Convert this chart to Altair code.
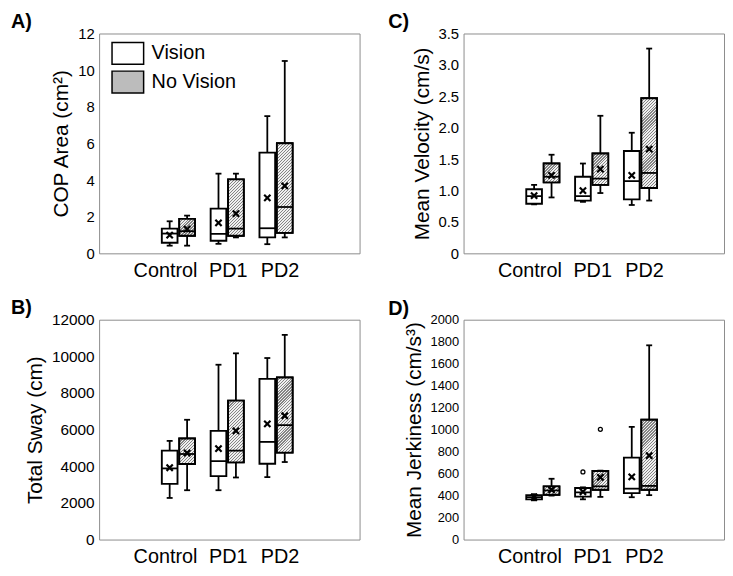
import altair as alt

groups = ["Control", "PD1", "PD2"]
conds = ["Vision", "No Vision"]

# box order: Control-V, Control-NV, PD1-V, PD1-NV, PD2-V, PD2-NV
a_lo = [0.42, 0.42, 0.52, 0.87, 0.50, 0.87]
a_q1 = [0.58, 0.96, 0.69, 0.96, 0.87, 1.12]
a_med = [1.08, 1.21, 1.06, 1.35, 1.37, 2.53]
a_q3 = [1.35, 1.88, 2.44, 4.04, 5.50, 6.01]
a_hi = [1.75, 2.06, 4.35, 4.35, 7.49, 10.5]
a_mean = [1.00, 1.32, 1.66, 2.17, 3.03, 3.68]

c_lo = [0.78, 0.89, 0.82, 0.96, 0.77, 0.84]
c_q1 = [0.79, 1.13, 0.84, 1.09, 0.86, 1.04]
c_med = [0.91, 1.22, 0.91, 1.19, 1.15, 1.28]
c_q3 = [1.02, 1.43, 1.22, 1.59, 1.63, 2.47]
c_hi = [1.09, 1.57, 1.43, 2.19, 1.92, 3.26]
c_mean = [0.92, 1.24, 1.00, 1.34, 1.24, 1.66]

b_lo = [2271, 2692, 2692, 3388, 3407, 4231]
b_q1 = [3040, 4121, 3462, 4212, 4139, 4744]
b_med = [3883, 4670, 4286, 4853, 5330, 6245]
b_q3 = [4853, 5513, 5934, 7582, 8773, 8846]
b_hi = [5385, 6538, 9542, 10165, 9908, 11172]
b_mean = [3920, 4725, 4963, 5934, 6319, 6758]

d_lo = [357, 400, 366, 388, 385, 404]
d_q1 = [366, 407, 391, 453, 422, 453]
d_med = [385, 447, 430, 484, 463, 488]
d_q3 = [404, 484, 469, 624, 745, 1090]
d_hi = [413, 553, 475, 627, 1025, 1767]
d_mean = [385, 453, 435, 565, 571, 764]
d_out_group = ["PD1", "PD1"]
d_out_cond = ["Vision", "No Vision"]
d_out_val = [615, 1003]

W, H = 263, 222
FONT = "Liberation Sans"
STEP = 49.3
X_LEFT = 55.4
XO_PI, XO_PO = 0.1, 0.45
BW = STEP / (2 - XO_PI + 2 * XO_PO) * (1 - XO_PI)
XPATH = "M-1,-1L1,1M-1,1L1,-1"


def hatch(w, h, period=3.0, dark="#858585", light="#f0f0f0"):
    n = max(1, round((w + h) / period))
    stops = []
    for k in range(n):
        a, b, c = k / n, (k + 0.45) / n, (k + 1) / n
        stops += [
            {"offset": round(a, 5), "color": dark},
            {"offset": round(b, 5), "color": dark},
            {"offset": round(b, 5), "color": light},
            {"offset": round(c, 5), "color": light},
        ]
    cc = (w + h) / (w * w + h * h)
    return {"gradient": "linear", "x1": 0, "y1": 0,
            "x2": round(w * cc, 5), "y2": round(h * cc, 5), "stops": stops}


def panel(letter, ytitle, lo, q1, med, q3, hi, mean, ymax, yvals, lab_size,
          dx, show_legend=False, label_expr=None, fmt=None, outliers=None):
    recs, nv = [], []
    i = 0
    for g in groups:
        for c in conds:
            r = {"group": g, "cond": c, "lo": lo[i], "q1": q1[i], "med": med[i],
                 "q3": q3[i], "hi": hi[i], "mean": mean[i]}
            recs.append(r)
            if c == "No Vision":
                h = (q3[i] - q1[i]) / ymax * H
                rr = dict(r)
                rr["grad"] = hatch(BW, h)
                nv.append(rr)
            i += 1
    data = alt.Data(values=recs)

    xenc = alt.X("group:N",
                 scale=alt.Scale(domain=groups, paddingInner=0, paddingOuter=0,
                                 range=[X_LEFT, X_LEFT + 3 * STEP]),
                 axis=alt.Axis(title=None, labelAngle=0, labelFontSize=20, labelPadding=7,
                               labelOffset={"condition": [
                                   {"test": "datum.value === 'Control'", "value": -13},
                                   {"test": "datum.value === 'PD2'", "value": 4}],
                                   "value": 1}))
    xo = alt.XOffset("cond:N", scale=alt.Scale(domain=conds, paddingInner=XO_PI, paddingOuter=XO_PO))
    axis_kw = dict(values=yvals, title=ytitle, labelFontSize=lab_size, titleFontSize=21,
                   labelPadding=5, titlePadding=6)
    if label_expr:
        axis_kw["labelExpr"] = label_expr
    if fmt:
        axis_kw["format"] = fmt
    yaxis = alt.Axis(**axis_kw)
    ysc = alt.Scale(domain=[0, ymax], nice=False, zero=True)

    def Y(f):
        return alt.Y(f"{f}:Q", scale=ysc, axis=yaxis)

    base = alt.Chart(data).encode(x=xenc, xOffset=xo)
    whisker = base.mark_rule(color="black", strokeWidth=1.8).encode(y=Y("lo"), y2="hi:Q")
    legend = None
    if show_legend:
        legend = alt.Legend(title=None, orient="none", legendX=17, legendY=8,
                            symbolType="M-1.45,-1L1.45,-1L1.45,1L-1.45,1Z", symbolSize=484,
                            symbolStrokeColor="black", symbolStrokeWidth=1.5, symbolOpacity=1,
                            labelFontSize=20, labelFont=FONT, labelColor="black",
                            labelOffset=12, rowPadding=1, padding=0)
    box = base.mark_bar(stroke="black", strokeWidth=1.9, opacity=1).encode(
        y=Y("q1"), y2="q3:Q",
        fill=alt.Fill("cond:N", scale=alt.Scale(domain=conds, range=["white", "#bcbcbc"]),
                      legend=legend))
    hat = alt.Chart(alt.Data(values=nv)).mark_bar(stroke="black", strokeWidth=1.9, opacity=1).encode(
        x=xenc, xOffset=xo, y=Y("q1"), y2="q3:Q", fill=alt.Fill("grad:N", scale=None))
    median = base.mark_tick(color="black", thickness=1.8, size=BW, opacity=1).encode(y=Y("med"))
    caplo = base.mark_tick(color="black", thickness=1.8, size=6, opacity=1).encode(y=Y("lo"))
    caphi = base.mark_tick(color="black", thickness=1.8, size=6, opacity=1).encode(y=Y("hi"))
    meanpt = base.mark_point(shape=XPATH, filled=False, stroke="black", strokeWidth=2.2,
                             size=40, opacity=1).encode(y=Y("mean"))
    layers = [whisker, box, hat, median, caplo, caphi, meanpt]
    if outliers:
        og, oc, ov = outliers
        orecs = [{"group": g, "cond": c, "val": v} for g, c, v in zip(og, oc, ov)]
        outl = alt.Chart(alt.Data(values=orecs)).mark_point(
            shape="circle", filled=False, stroke="black", strokeWidth=1.3, size=16, opacity=1
        ).encode(x=xenc, xOffset=xo, y=Y("val"))
        layers.append(outl)
    return alt.layer(*layers).properties(
        width=W, height=H,
        title=alt.TitleParams(letter, anchor="start", frame="group", dx=dx, fontSize=20,
                              fontWeight="bold", font=FONT, color="black", offset=-5))


A = panel("A)", "COP Area (cm²)", a_lo, a_q1, a_med, a_q3, a_hi, a_mean,
          12, list(range(0, 13, 2)), 15, -89, show_legend=True)
C = panel("C)", "Mean Velocity (cm/s)", c_lo, c_q1, c_med, c_q3, c_hi, c_mean,
          3.5, [0, 0.5, 1, 1.5, 2, 2.5, 3, 3.5], 15, -76,
          label_expr="datum.value == 0 ? '0' : format(datum.value, '.1f')")
B = panel("B)", "Total Sway (cm)", b_lo, b_q1, b_med, b_q3, b_hi, b_mean,
          12000, list(range(0, 12001, 2000)), 15.5, -89, fmt="d")
D = panel("D)", "Mean Jerkiness (cm/s³)", d_lo, d_q1, d_med, d_q3, d_hi, d_mean,
          2000, list(range(0, 2001, 200)), 13, -76, fmt="d",
          outliers=(d_out_group, d_out_cond, d_out_val))

chart = alt.concat(A, C, B, D, columns=2, spacing={"row": 16, "column": 27}).resolve_scale(
    fill="independent", x="independent", y="independent", xOffset="independent"
).resolve_legend(fill="independent").properties(
    padding={"left": 2, "top": 0, "right": 0, "bottom": 0}
).configure(font=FONT).configure_view(
    stroke="#8c8c8c", strokeWidth=1
).configure_axis(
    grid=False, domain=False, ticks=False, labelFont=FONT, titleFont=FONT,
    labelColor="black", titleColor="black", titleFontWeight="normal"
)

chart.save("out.html", embed_options={"renderer": "svg", "actions": False})
